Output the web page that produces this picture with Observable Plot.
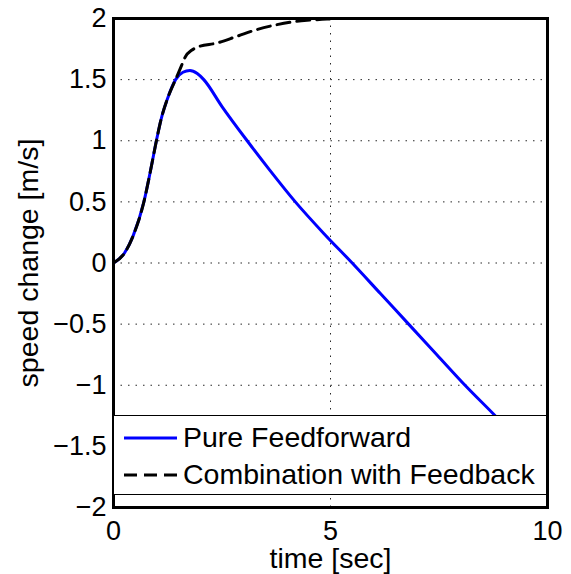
<!DOCTYPE html>
<html>
<head>
<meta charset="utf-8">
<script src="https://cdn.jsdelivr.net/npm/d3@7"></script>
<script src="https://cdn.jsdelivr.net/npm/@observablehq/plot@0.6"></script>
<style>
  html, body { margin: 0; padding: 0; background: #fff; }
  #wrap { position: relative; width: 571px; height: 574px; font-family: "Liberation Sans", Arial, sans-serif; }
  #legend { position: absolute; left: 114px; top: 415px; width: 432px; height: 80px; background: #fff;
            border-top: 1px solid #000; border-bottom: 1px solid #000; box-sizing: border-box; }
  .row { position: absolute; left: 0; height: 37px; display: flex; align-items: center; font-size: 28.5px; color: #000; white-space: nowrap; }
  .row svg { margin-left: 10px; margin-right: 6px; }
</style>
</head>
<body>
<div id="wrap"></div>
<script>
// Data
const timeFF  = [0, 0.25, 0.45, 0.7, 0.85, 1.0, 1.1, 1.25, 1.43, 1.6, 1.76, 1.93, 2.08, 2.5, 3.08, 3.6, 4.19, 4.85, 5.5, 6.15, 6.8, 7.45, 8.1, 8.85, 9.5, 10];
const speedFF = [0, 0.08, 0.22, 0.5, 0.75, 1.02, 1.18, 1.35, 1.5, 1.56, 1.575, 1.55, 1.5, 1.28, 1.0, 0.76, 0.5, 0.24, 0, -0.25, -0.5, -0.75, -1.0, -1.27, -1.52, -1.72];
const timeFB  = [0, 0.25, 0.45, 0.7, 0.85, 1.0, 1.1, 1.25, 1.43, 1.55, 1.66, 1.8, 1.93, 2.39, 2.85, 3.31, 3.77, 4.08, 4.46, 4.92, 5.2, 10];
const speedFB = [0, 0.08, 0.22, 0.5, 0.75, 1.02, 1.18, 1.35, 1.5, 1.6, 1.69, 1.74, 1.765, 1.80, 1.855, 1.91, 1.95, 1.97, 1.985, 1.995, 2, 2];
const xTicks = [0, 5, 10];
const yTicks = [-2, -1.5, -1, -0.5, 0, 0.5, 1, 1.5, 2];
const seriesNames = ["Pure Feedforward", "Combination with Feedback"];
const seriesColors = ["#0000ff", "#000000"];
const seriesDash = [null, "13,7"];
const xLabel = "time [sec]";
const yLabel = "speed change [m/s]";

const ff = timeFF.map((t, i) => ({t, v: speedFF[i]}));
const fb = timeFB.map((t, i) => ({t, v: speedFB[i]}));
const fmt = d => (d < 0 ? "\u2212" + Math.abs(d) : String(d));

const chart = Plot.plot({
  width: 571,
  height: 574,
  marginLeft: 113,
  marginRight: 24,
  marginTop: 18,
  marginBottom: 67,
  style: { fontFamily: "Liberation Sans, Arial, sans-serif", fontSize: "27px", background: "#fff", color: "#000", overflow: "visible" },
  x: { domain: [0, 10] },
  y: { domain: [-2, 2] },
  marks: [
    Plot.gridY(yTicks, { stroke: "#000", strokeOpacity: 0.85, strokeWidth: 1, strokeDasharray: "1.5,6" }),
    Plot.gridX([5], { stroke: "#000", strokeOpacity: 0.85, strokeWidth: 1, strokeDasharray: "1.5,6" }),
    Plot.line(ff, { x: "t", y: "v", stroke: seriesColors[0], strokeWidth: 3, curve: "monotone-x" }),
    Plot.line(fb, { x: "t", y: "v", stroke: seriesColors[1], strokeWidth: 3, strokeDasharray: seriesDash[1], curve: "monotone-x" }),
    Plot.axisX(xTicks, { tickSize: 0, tickPadding: 13, tickFormat: fmt, label: null, fontSize: 27 }),
    Plot.axisY(yTicks, { tickSize: 0, tickPadding: 7, tickFormat: fmt, label: null, fontSize: 27 }),
    Plot.text([xLabel], { frameAnchor: "bottom", lineAnchor: "bottom", textAnchor: "middle", dy: 60, fontSize: 28.5, fill: "#000" }),
    Plot.text([yLabel], { frameAnchor: "left", lineAnchor: "bottom", textAnchor: "middle", dx: -76, rotate: -90, fontSize: 28.5, fill: "#000" }),
    Plot.frame({ stroke: "#000", strokeWidth: 3 })
  ]
});

const wrap = document.getElementById("wrap");
wrap.appendChild(chart);

const legend = document.createElement("div");
legend.id = "legend";
seriesNames.forEach((name, i) => {
  const row = document.createElement("div");
  row.className = "row";
  row.style.top = (3 + 37 * i) + "px";
  const dash = seriesDash[i] ? ` stroke-dasharray="${seriesDash[i]}"` : "";
  row.innerHTML = `<svg width="53" height="10"><line x1="0" y1="5" x2="53" y2="5" stroke="${seriesColors[i]}" stroke-width="3"${dash}/></svg><span>${name}</span>`;
  legend.appendChild(row);
});
wrap.appendChild(legend);
</script>
</body>
</html>
